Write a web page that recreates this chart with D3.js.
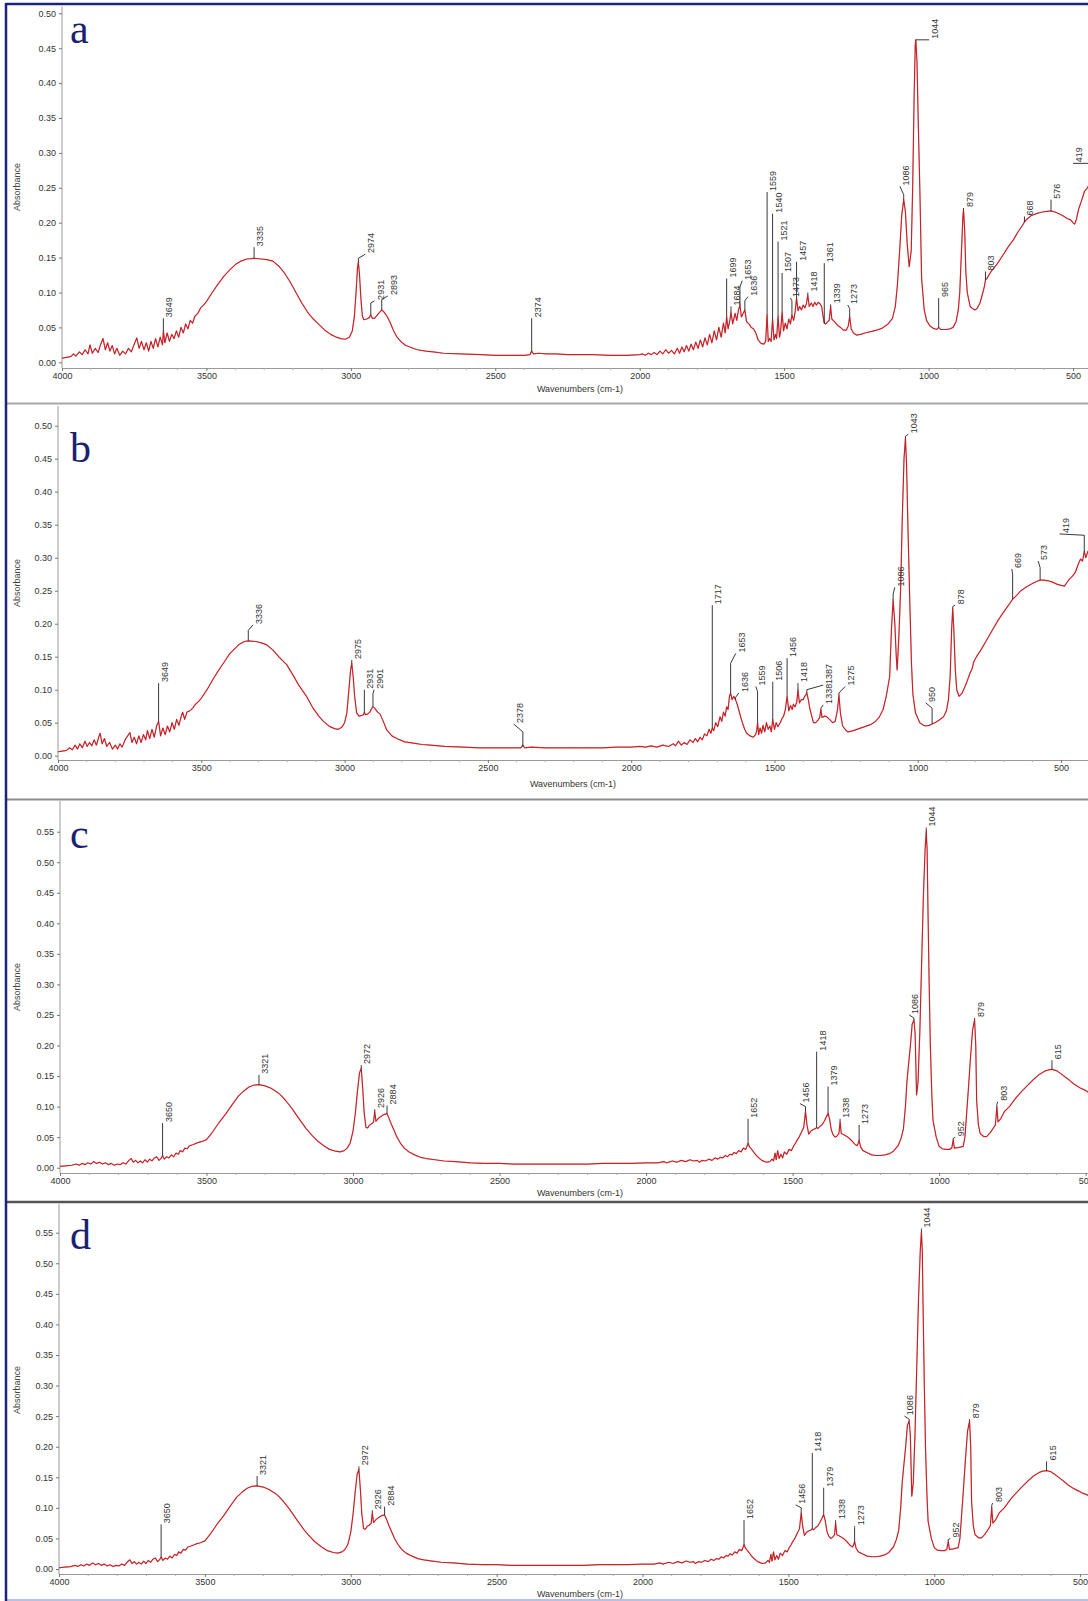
<!DOCTYPE html>
<html>
<head>
<meta charset="utf-8">
<script src="https://cdn.jsdelivr.net/npm/d3@7"></script>
<style>
  body { margin: 0; background: #fff; }
  svg { display: block; font-family: "Liberation Sans", Arial, sans-serif; }
</style>
</head>
<body>
<svg width="1088" height="1601"></svg>
<script>
// tick labels
const xTicks = [4000, 3500, 3000, 2500, 2000, 1500, 1000, 500];
const yTicksAB = [0, 0.05, 0.1, 0.15, 0.2, 0.25, 0.3, 0.35, 0.4, 0.45, 0.5];
const yTicksCD = [0, 0.05, 0.1, 0.15, 0.2, 0.25, 0.3, 0.35, 0.4, 0.45, 0.5, 0.55];
const panelLetters = ['a', 'b', 'c', 'd'];

// spectra: [wavenumber, absorbance]
const spectrumA = [
  [4000,0.006],[3985,0.007],[3970,0.008],[3960,0.012],[3952,0.009],[3940,0.015],[3930,0.011],[3920,0.018],
  [3910,0.012],[3903,0.025],[3895,0.013],[3885,0.02],[3875,0.014],[3866,0.026],[3858,0.034],[3850,0.018],
  [3842,0.028],[3834,0.016],[3826,0.024],[3818,0.012],[3810,0.02],[3800,0.01],[3790,0.016],[3780,0.012],
  [3770,0.02],[3760,0.015],[3750,0.026],[3741,0.035],[3733,0.02],[3725,0.03],[3716,0.018],[3708,0.028],
  [3700,0.016],[3692,0.03],[3684,0.02],[3676,0.034],[3668,0.022],[3660,0.036],[3652,0.025],[3649,0.045],
  [3644,0.028],[3636,0.042],[3628,0.03],[3620,0.04],[3612,0.034],[3604,0.045],[3596,0.036],[3588,0.05],
  [3580,0.042],[3572,0.055],[3564,0.048],[3556,0.06],[3548,0.056],[3540,0.066],[3530,0.07],[3520,0.078],
  [3510,0.082],[3500,0.087],[3480,0.1],[3460,0.112],[3440,0.123],[3420,0.132],[3400,0.14],[3380,0.145],
  [3360,0.148],[3335,0.149],[3310,0.148],[3290,0.147],[3270,0.145],[3250,0.138],[3230,0.128],[3210,0.115],
  [3190,0.1],[3170,0.085],[3150,0.072],[3130,0.062],[3110,0.054],[3090,0.046],[3070,0.04],[3050,0.036],
  [3035,0.034],[3020,0.033],[3005,0.036],[2995,0.045],[2988,0.065],[2982,0.1],[2977,0.135],[2974,0.144],
  [2970,0.125],[2965,0.09],[2960,0.066],[2955,0.061],[2945,0.062],[2936,0.064],[2931,0.068],[2926,0.063],
  [2918,0.063],[2908,0.068],[2900,0.072],[2893,0.075],[2885,0.072],[2875,0.066],[2865,0.058],[2853,0.046],
  [2840,0.036],[2825,0.029],[2810,0.024],[2796,0.022],[2770,0.018],[2740,0.016],[2715,0.015],[2680,0.013],
  [2622,0.012],[2550,0.011],[2500,0.01],[2449,0.01],[2400,0.01],[2380,0.011],[2374,0.016],[2368,0.012],
  [2350,0.013],[2322,0.012],[2290,0.012],[2250,0.011],[2200,0.011],[2162,0.011],[2100,0.01],[2044,0.01],
  [2000,0.011],[1990,0.012],[1980,0.01],[1970,0.013],[1960,0.011],[1950,0.014],[1940,0.011],[1930,0.016],
  [1920,0.012],[1910,0.018],[1900,0.013],[1890,0.017],[1880,0.012],[1870,0.02],[1862,0.013],[1854,0.022],
  [1846,0.015],[1838,0.024],[1830,0.016],[1822,0.026],[1814,0.018],[1806,0.029],[1798,0.02],[1790,0.032],
  [1782,0.022],[1774,0.035],[1766,0.025],[1758,0.04],[1750,0.028],[1742,0.045],[1734,0.032],[1726,0.05],
  [1718,0.036],[1710,0.056],[1704,0.042],[1699,0.065],[1694,0.048],[1688,0.06],[1684,0.072],[1678,0.055],
  [1670,0.07],[1664,0.06],[1658,0.075],[1653,0.082],[1648,0.065],[1642,0.07],[1636,0.075],[1630,0.058],
  [1622,0.055],[1614,0.05],[1606,0.048],[1598,0.042],[1590,0.032],[1580,0.027],[1570,0.026],[1564,0.03],
  [1559,0.068],[1555,0.03],[1550,0.034],[1545,0.03],[1540,0.062],[1535,0.032],[1530,0.04],[1526,0.034],
  [1521,0.066],[1516,0.036],[1512,0.045],[1507,0.072],[1502,0.045],[1496,0.056],[1490,0.048],[1484,0.062],
  [1478,0.055],[1473,0.068],[1467,0.06],[1462,0.072],[1457,0.092],[1452,0.074],[1446,0.08],[1440,0.075],
  [1434,0.082],[1428,0.078],[1423,0.084],[1418,0.096],[1413,0.08],[1406,0.085],[1400,0.08],[1394,0.086],
  [1388,0.082],[1382,0.086],[1376,0.084],[1370,0.08],[1366,0.068],[1361,0.056],[1356,0.055],[1350,0.058],
  [1344,0.06],[1339,0.08],[1335,0.062],[1325,0.058],[1315,0.053],[1305,0.05],[1295,0.046],[1285,0.046],
  [1278,0.052],[1273,0.066],[1268,0.048],[1260,0.042],[1250,0.039],[1235,0.04],[1220,0.042],[1200,0.044],
  [1180,0.046],[1160,0.049],[1140,0.055],[1125,0.063],[1115,0.08],[1108,0.11],[1100,0.16],[1093,0.21],
  [1086,0.233],[1080,0.215],[1074,0.17],[1067,0.137],[1060,0.16],[1055,0.25],[1050,0.38],[1046,0.455],
  [1044,0.462],[1040,0.43],[1036,0.35],[1030,0.245],[1024,0.12],[1015,0.075],[1007,0.06],[995,0.052],
  [985,0.049],[972,0.047],[965,0.05],[958,0.047],[940,0.047],[925,0.048],[915,0.05],[905,0.058],
  [897,0.075],[892,0.1],[886,0.16],[881,0.21],[879,0.218],[875,0.19],[871,0.13],[866,0.1],
  [860,0.088],[856,0.08],[848,0.077],[840,0.075],[832,0.077],[822,0.085],[812,0.1],[806,0.11],
  [803,0.118],[798,0.12],[790,0.126],[780,0.132],[764,0.14],[745,0.152],[725,0.165],[707,0.175],
  [690,0.187],[675,0.196],[668,0.201],[660,0.205],[645,0.21],[627,0.213],[610,0.215],[595,0.216],
  [576,0.217],[560,0.215],[545,0.212],[535,0.21],[520,0.206],[508,0.204],[500,0.2],[494,0.198],
  [488,0.205],[480,0.22],[470,0.232],[460,0.245],[450,0.25],[440,0.258]
];

const spectrumB = [
  [4000,0.006],[3985,0.007],[3970,0.008],[3960,0.012],[3950,0.009],[3940,0.016],[3932,0.01],[3924,0.018],
  [3915,0.012],[3906,0.022],[3898,0.014],[3890,0.02],[3882,0.015],[3874,0.024],[3866,0.016],[3858,0.028],
  [3853,0.034],[3846,0.018],[3838,0.026],[3830,0.014],[3820,0.02],[3810,0.01],[3800,0.016],[3792,0.01],
  [3784,0.018],[3776,0.013],[3766,0.024],[3757,0.03],[3749,0.035],[3742,0.02],[3734,0.028],[3726,0.018],
  [3718,0.03],[3710,0.02],[3702,0.032],[3694,0.024],[3688,0.038],[3680,0.026],[3672,0.04],[3664,0.028],
  [3656,0.045],[3649,0.052],[3642,0.03],[3634,0.042],[3626,0.032],[3618,0.045],[3610,0.036],[3602,0.05],
  [3594,0.04],[3586,0.055],[3578,0.046],[3570,0.06],[3565,0.066],[3558,0.055],[3550,0.066],[3540,0.068],
  [3530,0.072],[3520,0.078],[3510,0.082],[3500,0.087],[3480,0.1],[3460,0.115],[3446,0.125],[3420,0.142],
  [3400,0.155],[3388,0.16],[3370,0.168],[3350,0.173],[3336,0.174],[3310,0.173],[3290,0.171],[3272,0.168],
  [3250,0.16],[3230,0.15],[3202,0.138],[3180,0.122],[3160,0.107],[3133,0.09],[3110,0.072],[3090,0.06],
  [3074,0.052],[3051,0.044],[3035,0.041],[3022,0.04],[3010,0.043],[3000,0.05],[2992,0.065],[2985,0.1],
  [2979,0.13],[2975,0.14],[2970,0.12],[2965,0.09],[2958,0.065],[2950,0.06],[2940,0.061],[2934,0.062],
  [2931,0.066],[2927,0.062],[2920,0.063],[2912,0.066],[2905,0.072],[2901,0.074],[2895,0.072],[2885,0.066],
  [2876,0.063],[2865,0.052],[2853,0.039],[2835,0.03],[2818,0.026],[2790,0.021],[2760,0.019],[2730,0.017],
  [2700,0.016],[2650,0.014],[2585,0.013],[2530,0.012],[2470,0.012],[2420,0.012],[2385,0.012],[2378,0.016],
  [2372,0.012],[2350,0.013],[2300,0.012],[2250,0.012],[2200,0.012],[2150,0.012],[2100,0.012],[2050,0.013],
  [2000,0.013],[1970,0.014],[1950,0.013],[1930,0.015],[1910,0.013],[1890,0.016],[1870,0.014],[1853,0.018],
  [1845,0.015],[1835,0.022],[1825,0.016],[1815,0.02],[1805,0.017],[1795,0.024],[1784,0.02],[1776,0.026],
  [1768,0.021],[1760,0.028],[1752,0.024],[1744,0.033],[1736,0.03],[1728,0.04],[1722,0.034],[1717,0.042],
  [1712,0.038],[1705,0.05],[1698,0.044],[1690,0.059],[1684,0.052],[1678,0.066],[1672,0.06],[1667,0.074],
  [1662,0.07],[1657,0.09],[1653,0.095],[1648,0.085],[1642,0.09],[1636,0.085],[1630,0.078],[1625,0.07],
  [1620,0.062],[1612,0.05],[1604,0.04],[1597,0.034],[1585,0.03],[1574,0.028],[1566,0.032],[1562,0.038],
  [1559,0.05],[1555,0.032],[1550,0.042],[1545,0.034],[1540,0.046],[1534,0.036],[1528,0.05],[1522,0.04],
  [1516,0.045],[1511,0.036],[1506,0.055],[1500,0.04],[1494,0.05],[1488,0.044],[1480,0.05],[1474,0.056],
  [1468,0.06],[1462,0.07],[1456,0.09],[1450,0.068],[1444,0.076],[1438,0.07],[1434,0.078],[1428,0.074],
  [1422,0.082],[1418,0.1],[1413,0.08],[1406,0.085],[1400,0.085],[1394,0.09],[1387,0.095],[1382,0.085],
  [1376,0.07],[1370,0.06],[1364,0.05],[1356,0.05],[1348,0.054],[1342,0.058],[1338,0.07],[1334,0.058],
  [1325,0.06],[1318,0.059],[1308,0.055],[1297,0.05],[1288,0.052],[1280,0.07],[1275,0.092],[1270,0.065],
  [1262,0.045],[1250,0.038],[1243,0.036],[1225,0.038],[1205,0.041],[1185,0.044],[1165,0.047],[1150,0.051],
  [1135,0.058],[1121,0.07],[1110,0.09],[1098,0.12],[1092,0.19],[1086,0.236],[1080,0.2],[1075,0.15],
  [1072,0.13],[1066,0.18],[1060,0.25],[1054,0.36],[1048,0.45],[1043,0.481],[1039,0.44],[1035,0.36],
  [1028,0.236],[1022,0.14],[1017,0.093],[1008,0.065],[993,0.05],[980,0.046],[972,0.045],[960,0.046],
  [950,0.048],[940,0.05],[925,0.054],[910,0.059],[900,0.068],[893,0.085],[887,0.12],[882,0.19],
  [878,0.223],[874,0.19],[869,0.13],[864,0.1],[856,0.09],[845,0.095],[830,0.11],[818,0.125],
  [810,0.132],[805,0.142],[795,0.15],[780,0.16],[760,0.175],[740,0.19],[720,0.205],[700,0.218],
  [680,0.23],[669,0.237],[655,0.243],[640,0.25],[620,0.256],[600,0.261],[585,0.264],[573,0.266],
  [560,0.266],[545,0.265],[530,0.263],[515,0.26],[500,0.258],[488,0.257],[480,0.262],[470,0.268],
  [460,0.272],[450,0.278],[440,0.29],[432,0.298],[425,0.295],[419,0.31],[414,0.3],[406,0.31],[400,0.305]
];

const spectrumC = [
  [4000,0.002],[3980,0.003],[3960,0.004],[3945,0.006],[3935,0.004],[3925,0.007],[3915,0.005],[3905,0.008],
  [3895,0.006],[3885,0.01],[3875,0.007],[3865,0.009],[3855,0.006],[3845,0.008],[3835,0.005],[3825,0.007],
  [3815,0.004],[3805,0.006],[3795,0.005],[3785,0.008],[3775,0.006],[3765,0.012],[3757,0.015],[3750,0.009],
  [3742,0.012],[3734,0.008],[3726,0.011],[3718,0.008],[3710,0.013],[3702,0.009],[3694,0.014],[3686,0.011],
  [3678,0.016],[3670,0.018],[3662,0.012],[3654,0.016],[3650,0.02],[3644,0.014],[3636,0.018],[3628,0.016],
  [3620,0.021],[3612,0.018],[3604,0.024],[3596,0.022],[3590,0.028],[3582,0.026],[3574,0.032],[3566,0.031],
  [3558,0.036],[3545,0.038],[3530,0.041],[3515,0.043],[3500,0.046],[3480,0.058],[3460,0.072],[3433,0.089],
  [3410,0.105],[3390,0.118],[3374,0.125],[3355,0.132],[3340,0.135],[3321,0.136],[3300,0.134],[3280,0.13],
  [3260,0.124],[3249,0.12],[3230,0.11],[3210,0.098],[3181,0.078],[3160,0.064],[3140,0.053],[3124,0.045],
  [3100,0.036],[3080,0.03],[3060,0.027],[3044,0.026],[3030,0.028],[3020,0.032],[3010,0.04],[3000,0.06],
  [2992,0.09],[2985,0.125],[2978,0.155],[2972,0.163],[2967,0.13],[2962,0.09],[2956,0.066],[2950,0.065],
  [2943,0.07],[2936,0.072],[2930,0.075],[2926,0.092],[2922,0.076],[2915,0.08],[2905,0.084],[2895,0.087],
  [2888,0.088],[2884,0.088],[2878,0.082],[2870,0.072],[2861,0.062],[2850,0.05],[2838,0.04],[2825,0.032],
  [2810,0.026],[2790,0.021],[2770,0.017],[2750,0.015],[2720,0.013],[2690,0.011],[2650,0.01],[2600,0.008],
  [2550,0.007],[2500,0.007],[2450,0.006],[2400,0.006],[2350,0.006],[2300,0.006],[2250,0.006],[2200,0.006],
  [2150,0.007],[2100,0.007],[2050,0.007],[2000,0.008],[1960,0.008],[1940,0.01],[1930,0.008],[1910,0.011],
  [1895,0.009],[1880,0.012],[1865,0.01],[1850,0.013],[1838,0.011],[1825,0.012],[1819,0.009],[1808,0.012],
  [1797,0.011],[1786,0.014],[1775,0.012],[1765,0.016],[1755,0.014],[1747,0.017],[1738,0.016],[1730,0.02],
  [1722,0.018],[1714,0.022],[1706,0.021],[1700,0.025],[1692,0.023],[1684,0.028],[1676,0.026],[1668,0.032],
  [1660,0.03],[1655,0.036],[1652,0.04],[1647,0.034],[1640,0.03],[1632,0.025],[1624,0.02],[1615,0.016],
  [1605,0.012],[1595,0.01],[1588,0.009],[1578,0.01],[1570,0.014],[1565,0.011],[1560,0.024],[1556,0.013],
  [1551,0.028],[1546,0.015],[1540,0.022],[1534,0.016],[1528,0.026],[1520,0.022],[1512,0.03],[1504,0.028],
  [1496,0.036],[1490,0.04],[1486,0.044],[1478,0.05],[1470,0.058],[1462,0.066],[1456,0.092],[1451,0.07],
  [1445,0.055],[1438,0.06],[1428,0.063],[1422,0.064],[1418,0.066],[1414,0.064],[1406,0.068],[1400,0.07],
  [1392,0.076],[1384,0.084],[1379,0.089],[1374,0.08],[1368,0.062],[1362,0.054],[1355,0.05],[1348,0.052],
  [1342,0.056],[1338,0.075],[1334,0.056],[1325,0.054],[1311,0.05],[1300,0.045],[1289,0.039],[1280,0.036],
  [1276,0.04],[1273,0.045],[1268,0.034],[1260,0.028],[1247,0.025],[1230,0.021],[1215,0.02],[1201,0.02],
  [1185,0.021],[1170,0.023],[1156,0.027],[1140,0.036],[1130,0.048],[1122,0.063],[1115,0.1],[1110,0.14],
  [1105,0.166],[1098,0.2],[1092,0.235],[1086,0.242],[1082,0.22],[1079,0.16],[1077,0.119],[1072,0.14],
  [1066,0.22],[1060,0.33],[1054,0.44],[1048,0.52],[1044,0.551],[1041,0.52],[1038,0.42],[1034,0.3],
  [1030,0.2],[1025,0.12],[1021,0.078],[1010,0.05],[1000,0.035],[990,0.031],[977,0.03],[965,0.03],
  [957,0.032],[952,0.045],[948,0.032],[935,0.033],[925,0.034],[918,0.035],[912,0.05],[907,0.083],
  [900,0.13],[893,0.18],[886,0.225],[879,0.242],[875,0.2],[872,0.11],[866,0.07],[860,0.056],
  [848,0.051],[838,0.051],[826,0.057],[815,0.065],[808,0.07],[803,0.1],[799,0.075],[790,0.08],
  [777,0.092],[760,0.1],[740,0.113],[724,0.122],[700,0.134],[679,0.144],[660,0.152],[640,0.158],
  [628,0.16],[615,0.161],[600,0.159],[585,0.154],[571,0.149],[555,0.143],[540,0.137],[520,0.131],
  [503,0.127],[492,0.124],[480,0.122],[470,0.12]
];
const spectrumD = spectrumC;

// peak labels: [peak, leader base, leader top, label wavenumber, label absorbance]
const labelsA = [
  [3649,0.045,0.063,3649,0.063],[3335,0.149,0.165,3335,0.165],[2974,0.144,0.149,2950,0.155],
  [2931,0.068,0.085,2918,0.088],[2893,0.075,0.09,2872,0.095],[2374,0.016,0.063,2374,0.063],
  [1699,0.065,0.12,1699,0.12],[1684,0.072,0.077,1684,0.08],[1653,0.082,0.108,1645,0.117],
  [1636,0.075,0.088,1625,0.094],[1559,0.068,0.244,1559,0.244],[1540,0.062,0.213,1540,0.213],
  [1521,0.066,0.173,1521,0.173],[1507,0.072,0.128,1507,0.128],[1473,0.068,0.088,1478,0.092],
  [1457,0.092,0.144,1457,0.144],[1418,0.096,0.1,1418,0.1],[1361,0.056,0.142,1361,0.142],
  [1339,0.08,0.083,1339,0.083],[1273,0.066,0.077,1280,0.082],[1086,0.233,0.24,1099,0.252],
  [1044,0.462,0.462,998,0.462],[965,0.05,0.092,965,0.092],[879,0.218,0.221,879,0.221],
  [803,0.118,0.13,803,0.13],[668,0.201,0.209,668,0.209],[576,0.217,0.233,576,0.233],
  [419,0.26,0.285,500,0.285]
];
const labelsB = [
  [3649,0.052,0.11,3649,0.11],[3336,0.174,0.19,3320,0.198],[2975,0.14,0.145,2975,0.145],
  [2931,0.066,0.1,2931,0.1],[2901,0.074,0.094,2897,0.1],[2378,0.014,0.036,2410,0.048],
  [1717,0.042,0.228,1717,0.228],[1653,0.095,0.14,1635,0.155],[1636,0.085,0.088,1625,0.095],
  [1559,0.05,0.097,1565,0.105],[1506,0.055,0.112,1506,0.112],[1456,0.09,0.148,1456,0.148],
  [1418,0.1,0.108,1418,0.11],[1387,0.095,0.1,1330,0.107],[1338,0.07,0.072,1330,0.077],
  [1275,0.092,0.095,1253,0.105],[1086,0.236,0.245,1080,0.255],[1043,0.481,0.484,1033,0.487],
  [950,0.048,0.072,972,0.08],[878,0.223,0.226,870,0.228],[669,0.237,0.275,672,0.283],
  [573,0.266,0.285,580,0.295],[419,0.31,0.334,505,0.336]
];
const labelsC = [
  [3650,0.02,0.073,3650,0.073],[3321,0.136,0.14,3321,0.152],[2972,0.163,0.166,2972,0.168],
  [2926,0.092,0.095,2926,0.096],[2884,0.088,0.1,2884,0.102],[1652,0.04,0.078,1652,0.08],
  [1456,0.092,0.1,1475,0.105],[1418,0.066,0.1875,1418,0.19],[1379,0.089,0.133,1379,0.133],
  [1338,0.075,0.078,1338,0.08],[1273,0.045,0.068,1273,0.07],[1086,0.242,0.245,1102,0.25],
  [1044,0.551,0.555,1044,0.557],[952,0.045,0.048,945,0.05],[879,0.242,0.243,879,0.245],
  [803,0.1,0.104,800,0.108],[615,0.161,0.176,615,0.176]
];
const labelsD = labelsC;

// panel geometry
const panels = [
  { spec: spectrumA, labels: labelsA, yTicks: yTicksAB, left: 62, wnRight: 448, zero: 362.3, topVal: 0.5, topPx: 13.3,
    axisTop: 6.5, axisBottom: 368, letterY: 43, absY: 187, titleX: 580, titleY: 392 },
  { spec: spectrumB, labels: labelsB, yTicks: yTicksAB, left: 58, wnRight: 406, zero: 755.7, topVal: 0.5, topPx: 425.7,
    axisTop: 406, axisBottom: 760, letterY: 462, absY: 583, titleX: 573, titleY: 787 },
  { spec: spectrumC, labels: labelsC, yTicks: yTicksCD, left: 60, wnRight: 492, zero: 1167.7, topVal: 0.55, topPx: 831.7,
    axisTop: 801, axisBottom: 1173, letterY: 848, absY: 987, titleX: 580, titleY: 1196 },
  { spec: spectrumD, labels: labelsD, yTicks: yTicksCD, left: 59, wnRight: 473, zero: 1569, topVal: 0.55, topPx: 1232.7,
    axisTop: 1204, axisBottom: 1574, letterY: 1249, absY: 1390, titleX: 580, titleY: 1597 }
];

const W = 1088;
const svg = d3.select('svg');
svg.append('rect').attr('width', W).attr('height', 1601).attr('fill', '#fff');

const line = (x, y) => d3.line().x(d => x(d[0])).y(d => y(d[1]));

panels.forEach((p, i) => {
  const x = d3.scaleLinear().domain([4000, p.wnRight]).range([p.left, W]);
  const y = d3.scaleLinear().domain([0, p.topVal]).range([p.zero, p.topPx]);
  const g = svg.append('g');

  g.append('clipPath').attr('id', 'clip' + i)
    .append('rect')
    .attr('x', p.left).attr('y', p.axisTop - 30)
    .attr('width', W - p.left).attr('height', p.axisBottom - p.axisTop + 30);

  // y axis
  g.append('line')
    .attr('x1', p.left).attr('x2', p.left)
    .attr('y1', p.axisBottom).attr('y2', p.axisTop)
    .attr('stroke', '#9a9a9a');
  const yAxis = g.append('g')
    .attr('transform', `translate(${p.left},0)`)
    .call(d3.axisLeft(y).tickValues(p.yTicks).tickSize(3).tickPadding(3).tickFormat(d3.format('.2f')));
  yAxis.select('.domain').remove();

  // x axis
  const xAxis = g.append('g')
    .attr('transform', `translate(0,${p.axisBottom})`)
    .call(d3.axisBottom(x).tickValues(xTicks).tickSize(3).tickSizeOuter(0).tickPadding(2).tickFormat(d3.format('d')));
  xAxis.select('.domain').attr('stroke', '#9a9a9a');

  g.append('g')
    .selectAll('line')
    .data(d3.range(3900, p.wnRight, -100).filter(v => v % 500 !== 0))
    .enter()
    .append('line')
    .attr('x1', d => x(d)).attr('x2', d => x(d))
    .attr('y1', p.axisBottom).attr('y2', p.axisBottom + 2)
    .attr('stroke', '#aaa');

  [yAxis, xAxis].forEach(a => {
    a.selectAll('.tick line').attr('stroke', '#777');
    a.selectAll('text').attr('font-size', 9).attr('fill', '#333')
      .attr('font-family', '"Liberation Sans", Arial, sans-serif');
  });

  g.append('text')
    .attr('transform', `translate(20,${p.absY}) rotate(-90)`)
    .attr('text-anchor', 'middle')
    .attr('font-size', 9)
    .attr('fill', '#444')
    .text('Absorbance');

  g.append('text')
    .attr('x', p.titleX).attr('y', p.titleY)
    .attr('text-anchor', 'middle')
    .attr('font-size', 9)
    .attr('fill', '#333')
    .text('Wavenumbers (cm-1)');

  // spectrum
  const plot = g.append('g').attr('clip-path', `url(#clip${i})`);
  plot.append('path')
    .datum(p.spec)
    .attr('d', line(x, y))
    .attr('fill', 'none')
    .attr('stroke', '#e0282e')
    .attr('stroke-width', 1.2)
    .attr('stroke-linejoin', 'round');
  plot.append('path')
    .datum(p.spec)
    .attr('d', line(x, y))
    .attr('fill', 'none')
    .attr('stroke', '#6e1c1c')
    .attr('stroke-width', 0.4)
    .attr('stroke-opacity', 0.7);

  // peak labels
  const lab = g.append('g');
  lab.selectAll('path')
    .data(p.labels)
    .enter()
    .append('path')
    .attr('d', d => `M${x(d[0])},${y(d[1])}V${y(d[2])}L${x(d[3])},${y(d[4])}`)
    .attr('fill', 'none')
    .attr('stroke', '#222')
    .attr('stroke-width', 0.9);
  lab.selectAll('text')
    .data(p.labels)
    .enter()
    .append('text')
    .attr('transform', d => `translate(${x(d[3]) + 9},${y(d[4]) - 1}) rotate(-90)`)
    .attr('font-size', 9)
    .attr('fill', '#333')
    .text(d => d[0]);

  g.append('text')
    .attr('x', 70).attr('y', p.letterY)
    .attr('font-family', '"Liberation Serif", "DejaVu Serif", serif')
    .attr('font-size', 42)
    .attr('fill', '#1c1f72')
    .text(panelLetters[i]);
});

// separators and border
svg.append('line').attr('x1', 6).attr('x2', W).attr('y1', 403.5).attr('y2', 403.5)
  .attr('stroke', '#a8a8a8').attr('stroke-width', 2);
svg.append('line').attr('x1', 6).attr('x2', W).attr('y1', 799.5).attr('y2', 799.5)
  .attr('stroke', '#8c8c8c').attr('stroke-width', 2);
svg.append('line').attr('x1', 6).attr('x2', W).attr('y1', 1202).attr('y2', 1202)
  .attr('stroke', '#555').attr('stroke-width', 2.5);
svg.append('line').attr('x1', 6).attr('x2', W).attr('y1', 1600).attr('y2', 1600)
  .attr('stroke', '#b8c0e8').attr('stroke-width', 2);
svg.append('line').attr('x1', 6).attr('x2', W).attr('y1', 4).attr('y2', 4)
  .attr('stroke', '#1a237e').attr('stroke-width', 2.5);
svg.append('line').attr('x1', 6).attr('x2', 6).attr('y1', 3).attr('y2', 1601)
  .attr('stroke', '#1a237e').attr('stroke-width', 2.5);
</script>
</body>
</html>
